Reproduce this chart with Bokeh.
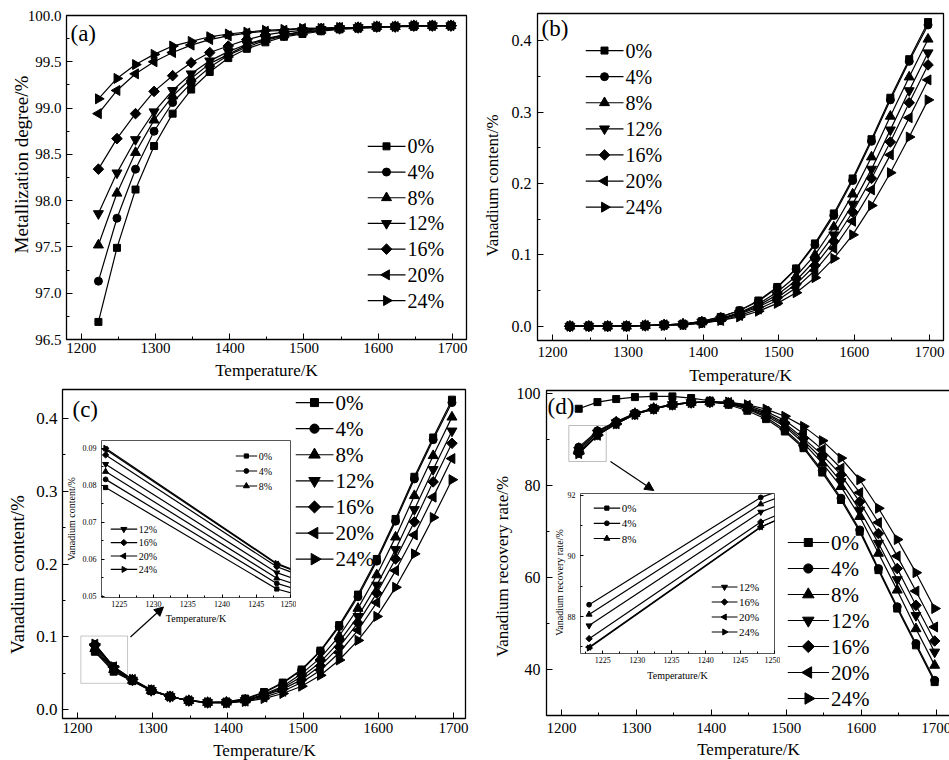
import math
from bokeh.plotting import figure
from bokeh.models import (Range1d, SingleIntervalTicker, NumeralTickFormatter,
                          Label, Arrow, NormalHead, BoxAnnotation, GlobalInlineStyleSheet)
from bokeh.core.properties import value
from bokeh.embed import file_html
from bokeh.resources import INLINE

# ---------------- data ----------------
TEMPS_K = [1223, 1248, 1273, 1298, 1323, 1348, 1373, 1398, 1423, 1448,
           1473, 1498, 1523, 1548, 1573, 1598, 1623, 1648, 1673, 1698]
SERIES_LABELS = ["0%", "4%", "8%", "12%", "16%", "20%", "24%"]

# (a) metallization degree / %
metallization = [
    [96.69, 97.49, 98.12, 98.59, 98.94, 99.20, 99.39, 99.54, 99.64, 99.71, 99.77, 99.80, 99.83, 99.85, 99.86, 99.87, 99.88, 99.88, 99.89, 99.89],
    [97.13, 97.81, 98.34, 98.75, 99.06, 99.27, 99.44, 99.57, 99.66, 99.73, 99.78, 99.81, 99.84, 99.86, 99.87, 99.88, 99.88, 99.89, 99.89, 99.89],
    [97.52, 98.08, 98.52, 98.87, 99.13, 99.32, 99.48, 99.58, 99.68, 99.74, 99.79, 99.82, 99.84, 99.86, 99.87, 99.88, 99.88, 99.89, 99.89, 99.89],
    [97.86, 98.30, 98.66, 98.96, 99.19, 99.37, 99.51, 99.61, 99.69, 99.75, 99.79, 99.83, 99.85, 99.86, 99.87, 99.88, 99.88, 99.89, 99.89, 99.89],
    [98.34, 98.67, 98.94, 99.18, 99.35, 99.49, 99.60, 99.67, 99.74, 99.79, 99.82, 99.84, 99.86, 99.87, 99.87, 99.88, 99.88, 99.89, 99.89, 99.89],
    [98.94, 99.19, 99.37, 99.50, 99.60, 99.68, 99.74, 99.78, 99.81, 99.83, 99.84, 99.86, 99.86, 99.87, 99.87, 99.88, 99.88, 99.89, 99.89, 99.89],
    [99.10, 99.32, 99.47, 99.58, 99.67, 99.72, 99.77, 99.80, 99.82, 99.84, 99.85, 99.86, 99.86, 99.87, 99.87, 99.88, 99.88, 99.89, 99.89, 99.89],
]

# (b) vanadium content / %
vanadium_b = [
    [0, 0, 0, 0, 0.001, 0.002, 0.003, 0.007, 0.013, 0.022, 0.036, 0.055, 0.081, 0.116, 0.158, 0.207, 0.262, 0.320, 0.374, 0.426],
    [0, 0, 0, 0, 0.001, 0.002, 0.003, 0.007, 0.013, 0.022, 0.035, 0.054, 0.080, 0.114, 0.155, 0.204, 0.259, 0.317, 0.371, 0.422],
    [0, 0, 0, 0, 0.001, 0.002, 0.003, 0.006, 0.011, 0.019, 0.031, 0.048, 0.070, 0.100, 0.139, 0.185, 0.237, 0.294, 0.349, 0.402],
    [0, 0, 0, 0, 0.001, 0.002, 0.003, 0.006, 0.010, 0.018, 0.029, 0.044, 0.064, 0.092, 0.128, 0.171, 0.220, 0.275, 0.330, 0.383],
    [0, 0, 0, 0, 0.001, 0.002, 0.003, 0.005, 0.009, 0.017, 0.027, 0.040, 0.059, 0.085, 0.119, 0.160, 0.207, 0.258, 0.313, 0.366],
    [0, 0, 0, 0, 0.001, 0.002, 0.002, 0.005, 0.008, 0.015, 0.024, 0.036, 0.054, 0.078, 0.109, 0.147, 0.191, 0.240, 0.292, 0.345],
    [0, 0, 0, 0, 0.001, 0.001, 0.002, 0.004, 0.008, 0.013, 0.021, 0.032, 0.047, 0.068, 0.095, 0.128, 0.169, 0.215, 0.265, 0.317],
]

# (c) vanadium content / %
vanadium_c = [
    [0.0794, 0.0520, 0.0390, 0.0255, 0.0175, 0.0125, 0.0098, 0.0106, 0.0150, 0.024, 0.037, 0.055, 0.081, 0.116, 0.158, 0.207, 0.262, 0.320, 0.374, 0.426],
    [0.0816, 0.0535, 0.0395, 0.0257, 0.0175, 0.0124, 0.0097, 0.0104, 0.0140, 0.023, 0.036, 0.054, 0.080, 0.114, 0.155, 0.204, 0.259, 0.317, 0.371, 0.422],
    [0.0837, 0.0549, 0.0400, 0.0260, 0.0176, 0.0123, 0.0096, 0.0100, 0.0130, 0.021, 0.032, 0.049, 0.071, 0.101, 0.139, 0.185, 0.237, 0.294, 0.349, 0.402],
    [0.0857, 0.0564, 0.0405, 0.0262, 0.0177, 0.0122, 0.0096, 0.0098, 0.0125, 0.020, 0.030, 0.045, 0.065, 0.093, 0.128, 0.171, 0.220, 0.275, 0.330, 0.383],
    [0.0882, 0.0580, 0.0410, 0.0265, 0.0178, 0.0122, 0.0095, 0.0095, 0.0120, 0.019, 0.028, 0.041, 0.060, 0.086, 0.119, 0.160, 0.207, 0.258, 0.313, 0.366],
    [0.0897, 0.0587, 0.0413, 0.0267, 0.0179, 0.0121, 0.0095, 0.0093, 0.0115, 0.017, 0.025, 0.037, 0.054, 0.078, 0.109, 0.147, 0.191, 0.240, 0.292, 0.345],
    [0.0900, 0.0589, 0.0415, 0.0270, 0.0180, 0.0120, 0.0095, 0.0090, 0.0110, 0.015, 0.022, 0.032, 0.047, 0.068, 0.095, 0.128, 0.168, 0.214, 0.264, 0.316],
]

# (d) vanadium recovery rate / %
recovery_d = [
    [96.73, 98.18, 98.84, 99.27, 99.42, 99.42, 99.06, 98.47, 97.60, 96.30, 94.48, 91.79, 88.16, 82.86, 76.90, 70.00, 61.65, 53.29, 45.30, 37.31],
    [88.39, 91.93, 93.95, 95.75, 96.85, 97.70, 98.10, 98.15, 97.80, 96.70, 94.90, 92.16, 88.50, 83.30, 77.30, 70.40, 62.00, 53.70, 45.70, 37.70],
    [88.07, 91.71, 93.85, 95.70, 96.82, 97.68, 98.10, 98.18, 97.85, 96.88, 95.20, 92.88, 89.25, 84.90, 79.80, 73.30, 65.30, 57.30, 48.90, 40.95],
    [87.70, 91.45, 93.70, 95.62, 96.78, 97.65, 98.08, 98.20, 97.97, 97.00, 95.60, 93.20, 89.80, 85.80, 80.90, 74.70, 67.50, 59.60, 51.80, 43.85],
    [87.27, 91.12, 93.55, 95.55, 96.72, 97.62, 98.06, 98.22, 98.00, 97.20, 95.80, 93.60, 90.30, 86.70, 82.35, 76.50, 69.60, 62.00, 54.00, 46.25],
    [86.99, 90.96, 93.45, 95.50, 96.70, 97.60, 98.05, 98.22, 98.10, 97.46, 96.15, 94.20, 91.30, 87.90, 83.80, 78.50, 72.00, 64.70, 57.10, 49.30],
    [86.96, 90.95, 93.44, 95.49, 96.69, 97.59, 98.04, 98.22, 98.20, 97.60, 96.66, 95.10, 92.90, 89.80, 86.00, 81.30, 75.10, 68.30, 61.10, 53.30],
]

X_TITLE = "Temperature/K"

# ---------------- style ----------------
FONT = "Liberation Serif"
MARKERS = ["square", "circle", "triangle", "inverted_triangle", "square", "triangle", "triangle"]
ANGLES = [0, 0, 0, 0, math.pi / 4, math.pi / 2, -math.pi / 2]
SIZES = [7, 8, 10, 10, 7.5, 10, 10]

PAGE_CSS = GlobalInlineStyleSheet(css="html, body { overflow: hidden; }")


def place(p, left, top):
    p.styles = {"position": "absolute", "left": f"{left}px", "top": f"{top}px"}
    p.stylesheets = [PAGE_CSS]


def bare_fig(w, h):
    f = figure(width=w, height=h, x_range=Range1d(0, w), y_range=Range1d(0, h),
               output_backend="svg", toolbar_location=None,
               x_axis_location=None, y_axis_location=None, min_border=0)
    f.grid.visible = False
    f.outline_line_color = None
    f.background_fill_color = None
    f.border_fill_color = None
    return f


def make_panel(frame_left, frame_top, frame_w, frame_h, borders, x_rng, y_rng, outline="black", ow=1.3):
    bl, bt, br, bb = borders
    p = figure(width=bl + frame_w + br, height=bt + frame_h + bb,
               x_range=Range1d(*x_rng), y_range=Range1d(*y_rng),
               output_backend="svg", toolbar_location=None,
               min_border_left=bl, min_border_top=bt, min_border_right=br, min_border_bottom=bb)
    place(p, frame_left - bl, frame_top - bt)
    p.border_fill_color = None
    p.background_fill_color = "white"
    p.outline_line_color = outline
    p.outline_line_width = ow
    p.xgrid.visible = False
    p.ygrid.visible = False
    return p


def style_axes(p, x_int, y_int, y_fmt, xtick_fs, ytick_fs, x_std, y_std,
               xlab=None, ylab=None, lab_fs="10px", xl_std=3, yl_std=3, tick_in=6, minor_in=3):
    xa, ya = p.xaxis[0], p.yaxis[0]
    xa.ticker = SingleIntervalTicker(interval=x_int, num_minor_ticks=2)
    ya.ticker = SingleIntervalTicker(interval=y_int, num_minor_ticks=2)
    xa.formatter = NumeralTickFormatter(format="0")
    ya.formatter = NumeralTickFormatter(format=y_fmt)
    if xlab:
        xa.axis_label = xlab
    if ylab:
        ya.axis_label = ylab
    for ax, tfs, std, lstd in ((xa, xtick_fs, x_std, xl_std), (ya, ytick_fs, y_std, yl_std)):
        ax.axis_line_color = None
        ax.major_tick_in = tick_in
        ax.major_tick_out = 0
        ax.minor_tick_in = minor_in
        ax.minor_tick_out = 0
        ax.major_tick_line_color = "black"
        ax.minor_tick_line_color = "black"
        ax.major_label_text_font = FONT
        ax.major_label_text_font_size = tfs
        ax.major_label_text_color = "black"
        ax.major_label_standoff = std
        ax.axis_label_text_font = FONT
        ax.axis_label_text_font_size = lab_fs
        ax.axis_label_text_font_style = "normal"
        ax.axis_label_text_color = "black"
        ax.axis_label_standoff = lstd


def title_box(cx, cy, text, fs, vertical=False, length=260):
    """Axis title drawn as text in a small transparent overlay, centred at page point (cx, cy)."""
    w, h = (30, length) if vertical else (length, 30)
    f = bare_fig(w, h)
    place(f, round(cx - w / 2), round(cy - h / 2))
    f.text(x=[w / 2], y=[h / 2], text=[text], angle=(math.pi / 2 if vertical else 0),
           text_font=value(FONT), text_font_size=fs, text_align="center",
           text_baseline="middle", text_color="black")
    return f


def draw_series(p, data, scale=1.0, lw=1.2):
    for i, ys in enumerate(data):
        p.line(TEMPS_K, ys, line_color="black", line_width=lw)
        p.scatter(TEMPS_K, ys, marker=MARKERS[i], size=SIZES[i] * scale, angle=ANGLES[i],
                  fill_color="black", line_color="black")


def legend_box(left, top, idxs, row_h, glyph_w, gap, fs, scale, label_w=40, lw=1.2):
    """A small transparent figure acting as the legend (line + marker + label per row)."""
    n = len(idxs)
    w = int(glyph_w + gap + label_w)
    h = int(round(row_h * n)) + 2
    f = bare_fig(w, h)
    place(f, left, top - 1)
    ys = [h - 1 - (k + 0.5) * row_h for k in range(n)]
    f.segment(x0=[0] * n, x1=[glyph_w] * n, y0=ys, y1=ys, line_color="black", line_width=lw)
    for k, i in enumerate(idxs):
        f.scatter([glyph_w / 2], [ys[k]], marker=MARKERS[i], size=SIZES[i] * scale, angle=ANGLES[i],
                  fill_color="black", line_color="black")
    f.text(x=[glyph_w + gap] * n, y=ys, text=[SERIES_LABELS[i] for i in idxs],
           text_font=value(FONT), text_font_size=fs, text_baseline="middle", text_align="left",
           text_color="black")
    return f


def panel_tag(p, text, x, y, fs="23px"):
    p.add_layout(Label(x=x, y=y, x_units="screen", y_units="screen", text=text,
                       text_font=FONT, text_font_size=fs, text_baseline="top", text_color="black"))


ALL = list(range(7))

# ---------------- (a) ----------------
pa = make_panel(66, 15, 400, 324, (66, 15, 6, 55), (1180, 1719), (96.5, 100.0))
style_axes(pa, 100, 0.5, "0.0", "15px", "15px", 3, 5)
draw_series(pa, metallization)
panel_tag(pa, "(a)", 4, 319)
leg_a = legend_box(367, 132.9, ALL, 25.7, 38, 2, "20px", 1.0)
tx_a = title_box(266, 370, X_TITLE, "17px")
ty_a = title_box(21.5, 163.5, "Metallization degree/%", "19px", vertical=True)

# ---------------- (b) ----------------
pb = make_panel(537, 13, 406, 327, (60, 13, 5, 55), (1180, 1718.5), (-0.02, 0.438))
style_axes(pb, 100, 0.1, "0.0", "15px", "16px", 6, 6)
draw_series(pb, vanadium_b)
panel_tag(pb, "(b)", 4, 325)
leg_b = legend_box(585, 37, ALL, 26.1, 38, 2, "20px", 1.0)
tx_b = title_box(740, 375, X_TITLE, "17px")
ty_b = title_box(491.7, 185, "Vanadium content/%", "17px", vertical=True)

# ---------------- (c) ----------------
pc = make_panel(62, 389, 403, 329, (60, 9, 6, 55), (1180, 1716), (-0.0124, 0.44))
style_axes(pc, 100, 0.1, "0.0", "15px", "17px", 4, 5)
draw_series(pc, vanadium_c)
panel_tag(pc, "(c)", 10, 322)
pc.add_layout(BoxAnnotation(left=1204.4, right=1266.5, bottom=0.036, top=0.101,
                            fill_alpha=0, line_color="#444444", line_width=1))
pc.add_layout(Arrow(end=NormalHead(size=9, fill_color="black", line_color="black"),
                    x_start=1270.4, y_start=0.0996, x_end=1314.3, y_end=0.141,
                    line_color="black", line_width=1.2))
leg_c = legend_box(295, 388.6, ALL, 26.1, 38, 2, "21px", 1.15)
tx_c = title_box(264, 750, X_TITLE, "17px")
ty_c = title_box(16.7, 573.5, "Vanadium content/%", "19px", vertical=True)

# ---------------- (d) ----------------
pd_ = make_panel(546, 390, 406, 325, (60, 8, 0, 55), (1180, 1721.8), (30.05, 100.7))
style_axes(pd_, 100, 20, "0", "15px", "16px", 7, 6)
draw_series(pd_, recovery_d)
panel_tag(pd_, "(d)", 1, 322)
pd_.add_layout(BoxAnnotation(left=1209.8, right=1259.7, bottom=85.27, top=93.09,
                             fill_alpha=0, line_color="#222222", line_width=1))
pd_.add_layout(Arrow(end=NormalHead(size=9, fill_color="black", line_color="black"),
                     x_start=1265.4, y_start=85.27, x_end=1323.2, y_end=78.96,
                     line_color="black", line_width=1.2))
leg_d = legend_box(786.7, 528.7, ALL, 26.0, 41.6, 2, "21px", 1.15)
tx_d = title_box(748, 749.3, X_TITLE, "17px")
ty_d = title_box(501.7, 566.5, "Vanadium recovery rate/%", "17px", vertical=True)

# ---------------- inset of (c) ----------------
ic = make_panel(98, 440, 192, 157, (36, 6, 6, 32), (1222.4, 1250.0), (0.0497, 0.0921), outline="#555555", ow=1)
style_axes(ic, 5, 0.01, "0.00", "8px", "8px", 3, 5, xlab=X_TITLE, ylab="Vanadium content/%",
           lab_fs="10px", xl_std=3, yl_std=3, tick_in=3, minor_in=2)
draw_series(ic, vanadium_c, scale=0.6, lw=1.2)
leg_ic1 = legend_box(235, 447.5, ALL[:3], 15, 21.7, 1.5, "10px", 0.6, label_w=22)
leg_ic2 = legend_box(110, 522.3, ALL[3:], 13.4, 26.7, 1.5, "10px", 0.6, label_w=24)

# ---------------- inset of (d) ----------------
idd = make_panel(580, 493, 194, 160, (36, 6, 6, 32), (1221.75, 1250.0), (86.78, 92.06), outline="#555555", ow=1)
style_axes(idd, 5, 2, "0", "8px", "8px", 3, 5, xlab=X_TITLE,
           lab_fs="10px", xl_std=4, yl_std=3, tick_in=3, minor_in=2)
draw_series(idd, recovery_d, scale=0.6, lw=1.2)
leg_id1 = legend_box(593.3, 499.7, ALL[:3], 15.2, 26.7, 1.5, "11px", 0.6, label_w=24)
leg_id2 = legend_box(710.7, 579.2, ALL[3:], 15.0, 26.0, 1.5, "11px", 0.6, label_w=26)
ty_id = title_box(559.3, 581.7, "Vanadium recovery rate/%", "10px", vertical=True, length=150)

roots = [pa, pb, pc, pd_, ic, idd,
         leg_a, leg_b, leg_c, leg_d, leg_ic1, leg_ic2, leg_id1, leg_id2,
         tx_a, ty_a, tx_b, ty_b, tx_c, ty_c, tx_d, ty_d, ty_id]
open("out.html", "w").write(file_html(roots, INLINE))
